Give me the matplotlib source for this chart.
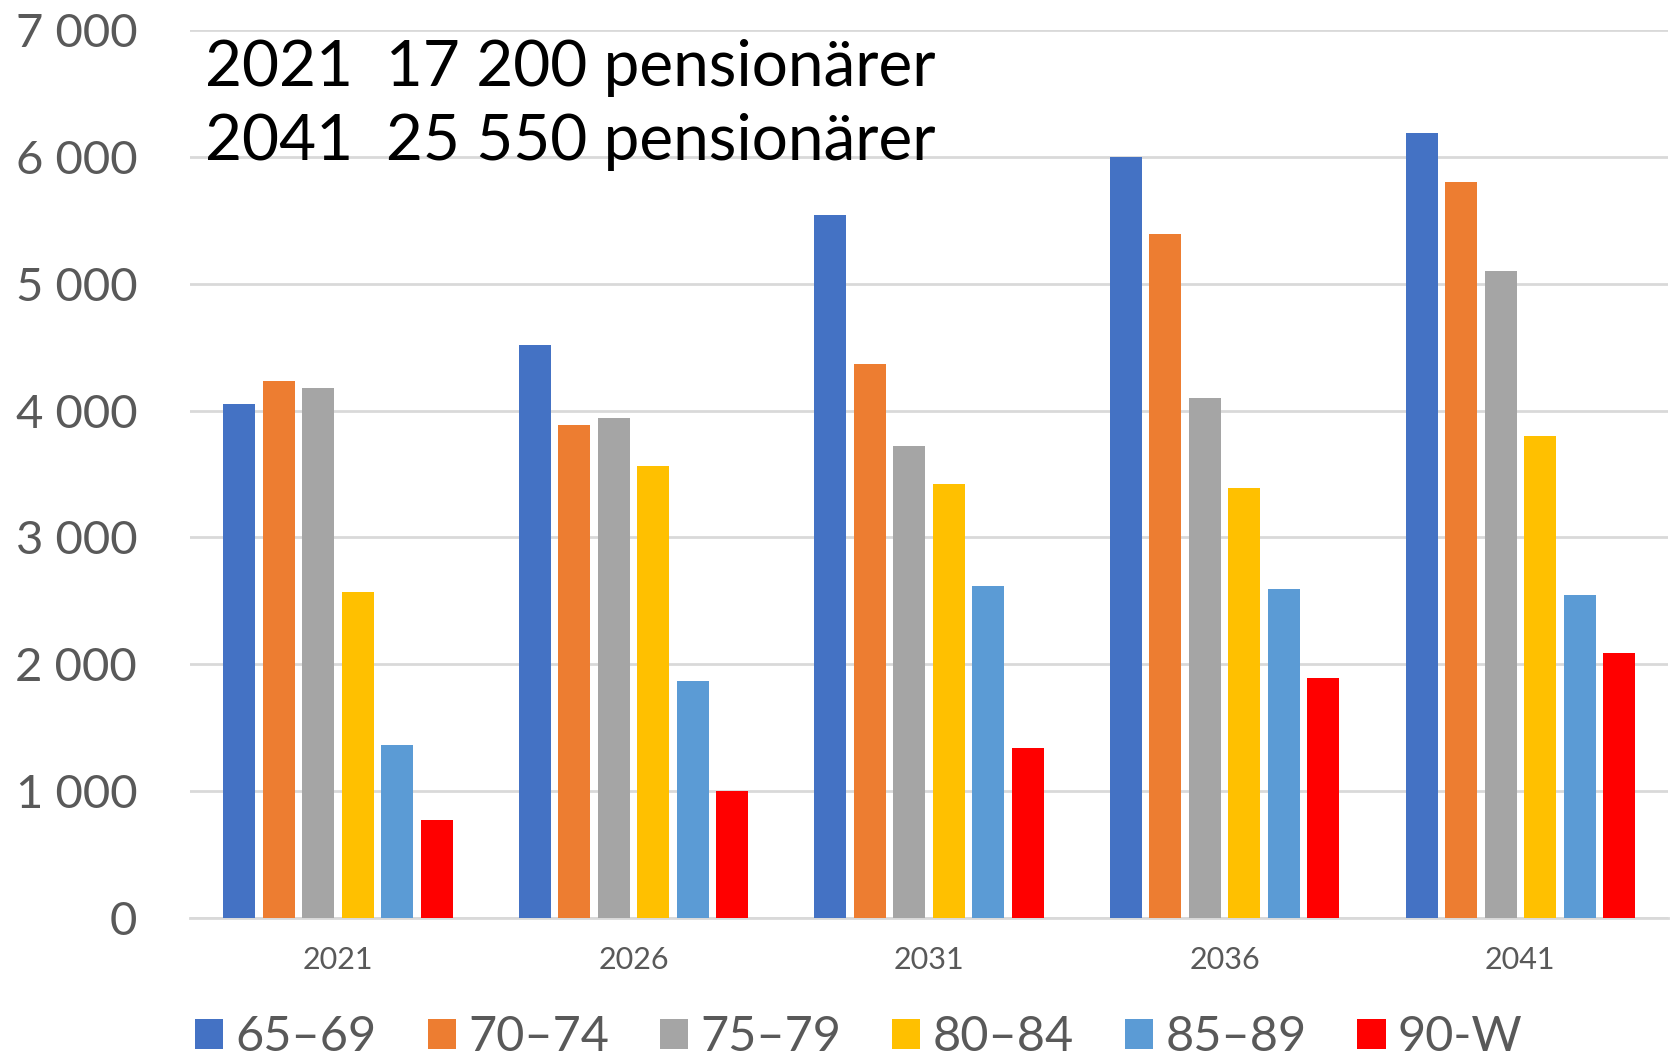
import matplotlib
matplotlib.use("Agg")
import matplotlib.pyplot as plt
import numpy as np

plt.rcParams['font.family'] = ['Lato', 'DejaVu Sans']

# data
years = ["2021", "2026", "2031", "2036", "2041"]
groups = ["65–69", "70–74", "75–79", "80–84", "85–89", "90-W"]
v_65_69 = [4050, 4520, 5540, 6000, 6190]
v_70_74 = [4230, 3890, 4370, 5390, 5800]
v_75_79 = [4180, 3940, 3720, 4100, 5100]
v_80_84 = [2570, 3560, 3420, 3390, 3800]
v_85_89 = [1360, 1870, 2620, 2590, 2550]
v_90_w = [770, 1000, 1340, 1890, 2090]
series = [v_65_69, v_70_74, v_75_79, v_80_84, v_85_89, v_90_w]
colors = ["#4472C4", "#ED7D31", "#A5A5A5", "#FFC000", "#5B9BD5", "#FF0000"]
yticks = [0, 1000, 2000, 3000, 4000, 5000, 6000, 7000]
ytick_labels = ["0", "1 000", "2 000", "3 000", "4 000", "5 000", "6 000", "7 000"]
notes = ["2021  17 200 pensionärer", "2041  25 550 pensionärer"]

fig = plt.figure(figsize=(16.74, 10.63), dpi=100)
ax = fig.add_axes([0.1135, 0.1364, 0.883, 0.8354])

x = np.arange(len(years))
step = 0.1336
width = 0.108
for i, (vals, col) in enumerate(zip(series, colors)):
    ax.bar(x + (i - 2.5) * step, vals, width, color=col, label=groups[i], zorder=3)

ax.set_xlim(-0.5, len(years) - 0.5)
ax.set_ylim(0, 7000)
ax.set_yticks(yticks)
ax.set_yticklabels(ytick_labels)
ax.set_xticks(x)
ax.set_xticklabels(years)
ax.grid(axis='y', color='#d9d9d9', linewidth=2, zorder=0)
for s in ['top', 'right', 'left']:
    ax.spines[s].set_visible(False)
ax.spines['bottom'].set_color('#d9d9d9')
ax.spines['bottom'].set_linewidth(2)
ax.tick_params(axis='y', length=0, pad=38, labelsize=34, labelcolor='#595959')
ax.tick_params(axis='x', length=0, pad=20, labelsize=22, labelcolor='#595959')

fig.text(0.1225, 0.936, notes[0], fontsize=46, va='center', ha='left', color='black')
fig.text(0.1225, 0.866, notes[1], fontsize=46, va='center', ha='left', color='black')

leg = fig.legend(loc='center', bbox_to_anchor=(0.513, 0.024), ncol=6, frameon=False,
                 fontsize=35, handlelength=0.58, handleheight=0.58, handletextpad=0.25,
                 columnspacing=1.05, labelcolor='#595959')

fig.savefig("out.png", dpi=100)
